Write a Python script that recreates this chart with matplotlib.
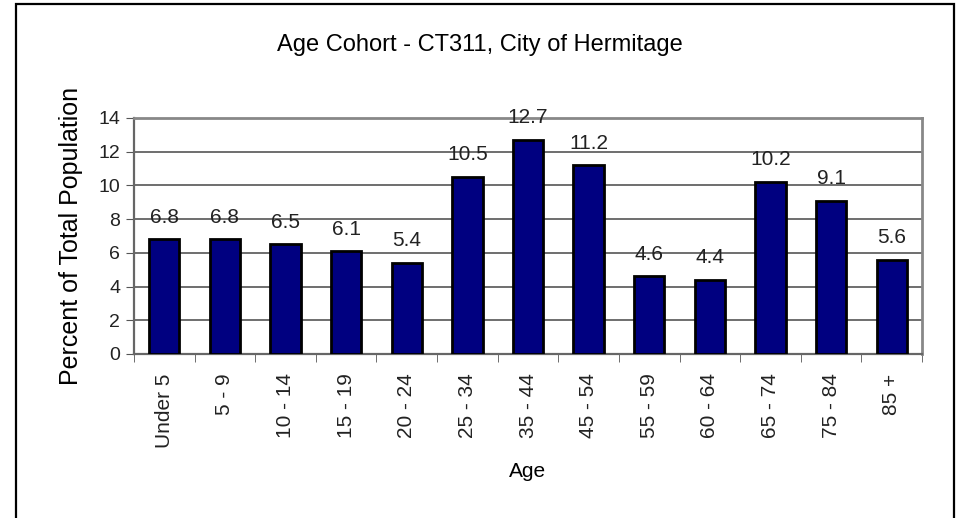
import matplotlib
matplotlib.use("Agg")
import matplotlib.pyplot as plt
from matplotlib.patches import Rectangle
import numpy as np

categories = ["Under 5", "5 - 9", "10 - 14", "15 - 19", "20 - 24", "25 - 34", "35 - 44",
              "45 - 54", "55 - 59", "60 - 64", "65 - 74", "75 - 84", "85 +"]
values = [6.8, 6.8, 6.5, 6.1, 5.4, 10.5, 12.7, 11.2, 4.6, 4.4, 10.2, 9.1, 5.6]
y_ticks = [0, 2, 4, 6, 8, 10, 12, 14]

plt.rcParams['font.family'] = ['Liberation Sans', 'DejaVu Sans']

fig = plt.figure(figsize=(9.6, 5.18), dpi=100)
fig.patch.set_facecolor('white')
fig.add_artist(Rectangle((16/960, -0.05), 938/960, 1.05 - 4/518, transform=fig.transFigure,
                         fill=False, edgecolor='black', linewidth=1.6))

ax = fig.add_axes([134/960, 1-354/518, 788/960, 236/518])
x = np.arange(len(categories))
ax.bar(x, values, width=0.5, color='#000080', edgecolor='black', linewidth=2, zorder=3)
for xi, v in zip(x, values):
    ax.text(xi, v + 0.75, f"{v}", ha='center', va='bottom', fontsize=15, color='#222222')

ax.set_xlim(-0.5, len(categories) - 0.5)
ax.set_ylim(0, 14)
ax.set_yticks(y_ticks)
ax.set_yticklabels([str(t) for t in y_ticks], fontsize=14, color='#222222')
ax.yaxis.grid(True, color='#555555', linewidth=1.2)
ax.set_axisbelow(True)
ax.set_xticks(x)
ax.set_xticklabels(categories, rotation=90, fontsize=15, color='#222222')
ax.set_xticks(np.arange(len(categories) + 1) - 0.5, minor=True)
ax.tick_params(axis='x', which='major', length=0, pad=14)
ax.tick_params(axis='x', which='minor', length=6, color='#555555')
ax.tick_params(axis='y', length=6, color='#555555', pad=4)
for s in ['top', 'right']:
    ax.spines[s].set_color('#888888')
    ax.spines[s].set_linewidth(2)
for s in ['left', 'bottom']:
    ax.spines[s].set_color('#666666')
    ax.spines[s].set_linewidth(1.6)

ax.set_ylabel("Percent of Total Population", fontsize=18, labelpad=11)
ax.set_xlabel("Age", fontsize=15, labelpad=10)
fig.text(0.5, 1-45/518, "Age Cohort - CT311, City of Hermitage", ha='center', va='center',
         fontsize=17)

fig.savefig("out.png", dpi=100)
